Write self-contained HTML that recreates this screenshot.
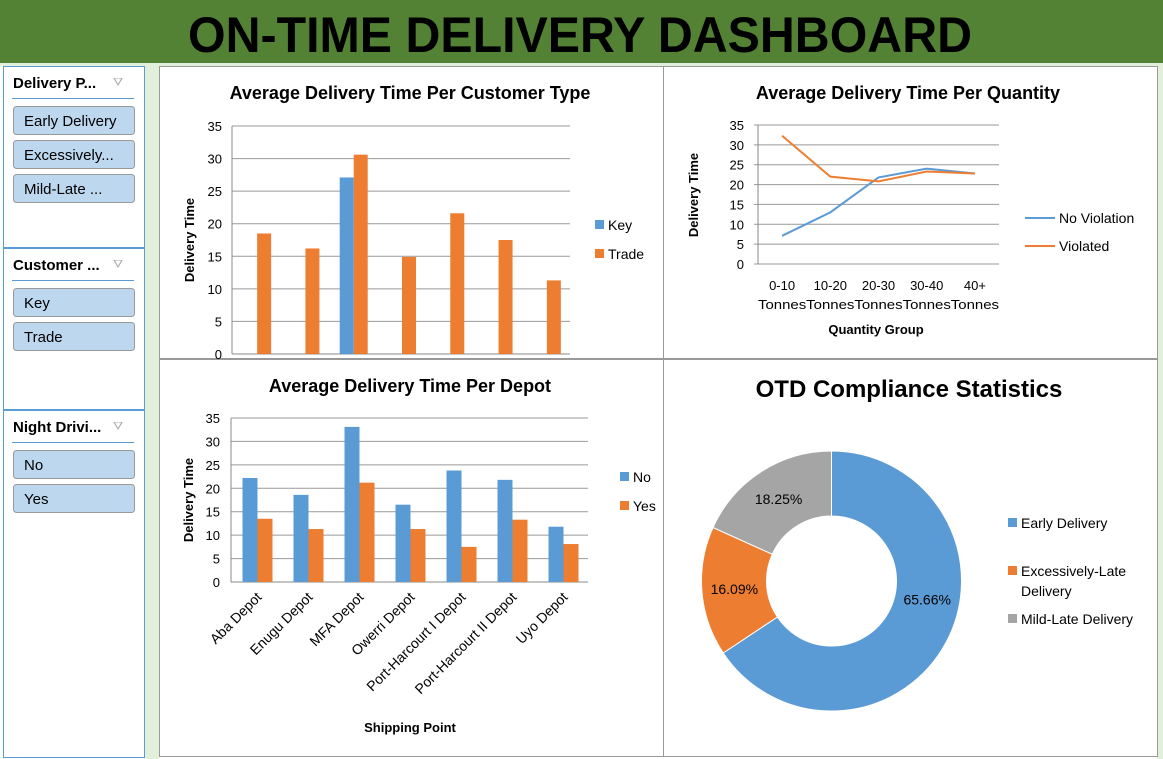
<!DOCTYPE html>
<html><head><meta charset="utf-8"><style>
body{margin:0;width:1163px;height:759px;overflow:hidden;background:#fff;font-family:"Liberation Sans",sans-serif;}
svg{display:block}
text{font-family:"Liberation Sans",sans-serif}
</style></head><body>
<svg id="s" width="1163" height="759">
<rect x="0" y="0" width="1163" height="759" fill="#fff"/>
<rect x="0" y="0" width="1163" height="63" fill="#548235"/>
<text x="580" y="52" text-anchor="middle" font-size="50" font-weight="bold" textLength="784" lengthAdjust="spacingAndGlyphs">ON-TIME DELIVERY DASHBOARD</text>
<rect x="0" y="63" width="1163" height="3" fill="#e2efda"/>
<rect x="145" y="66" width="14" height="693" fill="#e2efda"/>
<rect x="1157" y="66" width="6" height="693" fill="#e2efda"/>
<g id="slicers"></g>
<rect x="159.5" y="66.5" width="504" height="292" fill="#fff" stroke="#999"/>
<rect x="663.5" y="66.5" width="494" height="292" fill="#fff" stroke="#999"/>
<rect x="159.5" y="359.5" width="504" height="397" fill="#fff" stroke="#999"/>
<rect x="663.5" y="359.5" width="494" height="397" fill="#fff" stroke="#999"/>
<g id="c1"></g><g id="c2"></g><g id="c3"></g><g id="c4"></g>
</svg>
<script>
const NS='http://www.w3.org/2000/svg';
function mk(p,t,a,txt){const e=document.createElementNS(NS,t);for(const k in a)e.setAttribute(k,a[k]);if(txt!==undefined)e.textContent=txt;p.appendChild(e);return e;}
const BLUE='#5b9bd5',ORANGE='#ed7d31',GRAY='#a5a5a5';

// chart data
const custCats=['A','B','C','D','E','F','G'];
const custKey=[0,0,27.1,0,0,0,0];
const custTrade=[18.5,16.2,30.6,14.9,21.6,17.5,11.3];
const yTicks=[0,5,10,15,20,25,30,35];
const qtyCats1=['0-10','10-20','20-30','30-40','40+'];
const qtyNoViol=[7.1,13,21.8,24,22.8];
const qtyViol=[32.3,22,20.8,23.3,22.8];
const depotCats=['Aba Depot','Enugu Depot','MFA Depot','Owerri Depot','Port-Harcourt I Depot','Port-Harcourt II Depot','Uyo Depot'];
const depotNo=[22.2,18.6,33.1,16.5,23.8,21.8,11.8];
const depotYes=[13.5,11.3,21.2,11.3,7.5,13.3,8.1];
const otdLabels=['Early Delivery','Excessively-Late Delivery','Mild-Late Delivery'];
const otdVals=[65.66,16.09,18.25];

// slicers
const sl=document.getElementById('slicers');
const slicers=[
 {t:'Delivery P...',y:66,h:181,items:['Early Delivery','Excessively...','Mild-Late ...']},
 {t:'Customer ...',y:248,h:161,items:['Key','Trade']},
 {t:'Night Drivi...',y:410,h:347,items:['No','Yes']}];
slicers.forEach((s,i)=>{
 const g=mk(sl,'g',{});
 
 
 mk(g,'rect',{x:3.5,y:s.y+0.5,width:141,height:s.h,fill:'#fff',stroke:'#5b9bd5'});
 mk(g,'text',{x:13,y:s.y+22,'font-size':15,'font-weight':'bold'},s.t);
 const ic=mk(g,'text',{x:113,y:s.y+20,'font-size':12,fill:'#aaa'},'⛛');
 
 
 mk(g,'line',{x1:12,x2:134,y1:s.y+32.5,y2:s.y+32.5,stroke:'#5b9bd5'});
 s.items.forEach((it,j)=>{
  const b=mk(g,'g',{});
  
  
  const by=s.y+40+j*34;
  mk(b,'rect',{x:13.5,y:by+0.5,width:121,height:28,rx:3,fill:'#bdd7ee',stroke:'#999'});
  mk(b,'text',{x:24,y:by+20,'font-size':15},it);
 });
});

function yAxis(g,x0,x1,yb,yt,lblX){
 yTicks.forEach(v=>{const y=yb-(yb-yt)*v/35;
  mk(g,'line',{x1:x0,x2:x1,y1:y,y2:y,stroke:v===0?'#888':'#999'});
  mk(g,'text',{x:lblX,y:y+5,'font-size':13,'text-anchor':'end'},v);});
 mk(g,'line',{x1:x0,x2:x0,y1:yt,y2:yb,stroke:'#888'});
}
function legend(g,x,y,col,label,line){
 const l=mk(g,'g',{});
 
 
 if(line)mk(l,'line',{x1:x,x2:x+30,y1:y,y2:y,stroke:col,'stroke-width':2});
 else mk(l,'rect',{x:x,y:y-5,width:9,height:9,fill:col});
 mk(l,'text',{x:line?x+34:x+13,y:y+5,'font-size':14},label);
}
function ytitle(g,x,y){const t=mk(g,'text',{x:x,y:y,'font-size':13,'font-weight':'bold','text-anchor':'middle',transform:`rotate(-90 ${x} ${y})`},'Delivery Time');}

// chart 1
(function(){const g=document.getElementById('c1');
 const x0=232,x1=570,yb=354,yt=126,n=custCats.length,bw=(x1-x0)/n,sc=v=>(yb-yt)*v/35;
 mk(g,'text',{x:410,y:99,'font-size':18,'font-weight':'bold','text-anchor':'middle'},'Average  Delivery  Time  Per Customer Type');
 yAxis(g,x0,x1,yb,yt,222);
 custCats.forEach((c,i)=>{const cx=x0+bw*(i+0.5);
  if(custKey[i]>0){const r=mk(g,'rect',{x:cx-13,y:yb-sc(custKey[i]),width:14,height:sc(custKey[i]),fill:BLUE});}
  const r=mk(g,'rect',{x:cx+1,y:yb-sc(custTrade[i]),width:14,height:sc(custTrade[i]),fill:ORANGE});});
 ytitle(g,194,240);
 legend(g,595,225,BLUE,'Key');legend(g,595,254,ORANGE,'Trade');
})();

// chart 2
(function(){const g=document.getElementById('c2');
 const x0=758,x1=999,yb=264,yt=125,n=qtyCats1.length,bw=(x1-x0)/n,sc=v=>yb-(yb-yt)*v/35;
 mk(g,'text',{x:908,y:99,'font-size':18,'font-weight':'bold','text-anchor':'middle'},'Average  Delivery  Time  Per Quantity');
 yTicks.forEach(v=>{const y=sc(v);mk(g,'line',{x1:x0-4,x2:x1,y1:y,y2:y,stroke:'#999'});mk(g,'text',{x:744,y:y+5,'font-size':13,'text-anchor':'end'},v);});
 mk(g,'line',{x1:x0,x2:x0,y1:yt,y2:yb,stroke:'#888'});
 qtyCats1.forEach((c,i)=>{const cx=x0+bw*(i+0.5);
  mk(g,'text',{x:cx,y:290,'font-size':13,'text-anchor':'middle'},c);
  mk(g,'text',{x:cx,y:309,'font-size':13,'text-anchor':'middle',textLength:bw,lengthAdjust:'spacingAndGlyphs'},'Tonnes');});
 const pts=a=>a.map((v,i)=>(x0+bw*(i+0.5))+','+sc(v)).join(' ');
 const l1=mk(g,'polyline',{points:pts(qtyNoViol),fill:'none',stroke:BLUE,'stroke-width':2});
 const l2=mk(g,'polyline',{points:pts(qtyViol),fill:'none',stroke:ORANGE,'stroke-width':2});
 mk(g,'text',{x:876,y:334,'font-size':13,'font-weight':'bold','text-anchor':'middle'},'Quantity Group');
 ytitle(g,698,195);
 legend(g,1025,218,BLUE,'No Violation',true);legend(g,1025,246,ORANGE,'Violated',true);
})();

// chart 3
(function(){const g=document.getElementById('c3');
 const x0=231,x1=588,yb=582,yt=418,n=depotCats.length,bw=(x1-x0)/n,sc=v=>(yb-yt)*v/35;
 mk(g,'text',{x:410,y:392,'font-size':18,'font-weight':'bold','text-anchor':'middle'},'Average  Delivery  Time  Per Depot');
 yAxis(g,x0,x1,yb,yt,220);
 depotCats.forEach((c,i)=>{const cx=x0+bw*(i+0.5);
  const a=mk(g,'rect',{x:cx-14,y:yb-sc(depotNo[i]),width:15,height:sc(depotNo[i]),fill:BLUE});
  const b=mk(g,'rect',{x:cx+1,y:yb-sc(depotYes[i]),width:15,height:sc(depotYes[i]),fill:ORANGE});
  mk(g,'text',{x:cx+6,y:598,'font-size':14,'text-anchor':'end',transform:`rotate(-45 ${cx+6} 598)`},c);});
 mk(g,'text',{x:410,y:732,'font-size':13,'font-weight':'bold','text-anchor':'middle'},'Shipping Point');
 ytitle(g,193,500);
 legend(g,620,477,BLUE,'No');legend(g,620,506,ORANGE,'Yes');
})();

// chart 4 donut
(function(){const g=document.getElementById('c4');
 const cx=831.5,cy=581,R=130,r=65,cols=[BLUE,ORANGE,GRAY];
 mk(g,'text',{x:909,y:397,'font-size':24,'font-weight':'bold','text-anchor':'middle'},'OTD Compliance Statistics');
 const tot=otdVals.reduce((a,b)=>a+b,0);let a0=0;
 otdVals.forEach((v,i)=>{const a1=a0+v/tot*2*Math.PI;
  const p=(ang,rad)=>[cx+rad*Math.sin(ang),cy-rad*Math.cos(ang)];
  const [x1,y1]=p(a0,R),[x2,y2]=p(a1,R),[x3,y3]=p(a1,r),[x4,y4]=p(a0,r);const lg=a1-a0>Math.PI?1:0;
  const s=mk(g,'path',{d:`M${x1},${y1}A${R},${R} 0 ${lg} 1 ${x2},${y2}L${x3},${y3}A${r},${r} 0 ${lg} 0 ${x4},${y4}Z`,fill:cols[i],stroke:'#fff','stroke-width':1});
  
  const mid=(a0+a1)/2-(i===0?0.3:0);
  const [lx,ly]=p(mid,(R+r)/2);
  mk(g,'text',{x:lx,y:ly+5,'font-size':14,'text-anchor':'middle'},v.toFixed(2)+'%');
  a0=a1;});
 legend(g,1008,523,BLUE,otdLabels[0]);
 legend(g,1008,571,ORANGE,'Excessively-Late');
 mk(g,'text',{x:1021,y:596,'font-size':14},'Delivery');
 legend(g,1008,619,GRAY,otdLabels[2]);
})();
</script>
</body></html>
